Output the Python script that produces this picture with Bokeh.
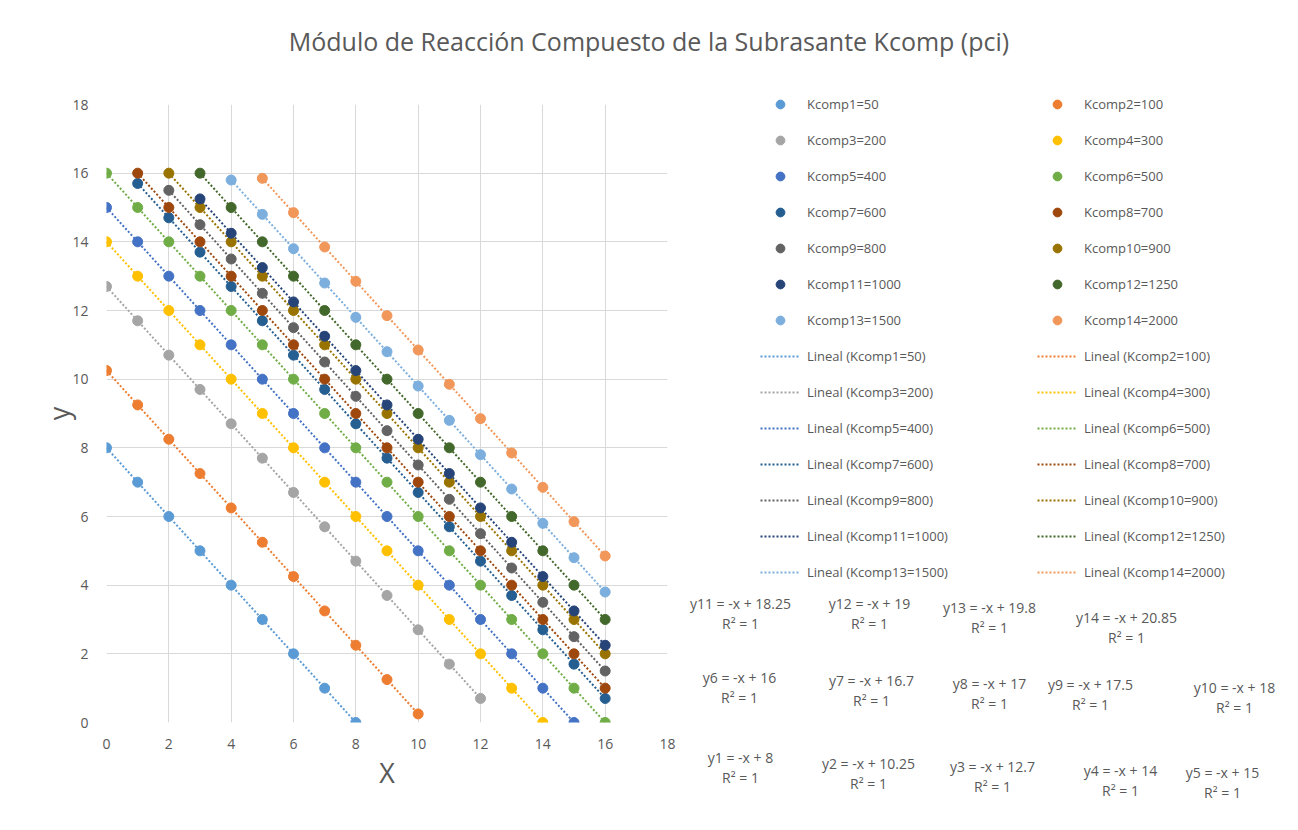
import numpy as np
from bokeh.plotting import figure
from bokeh.models import Range1d, Legend, LegendItem, Label, FixedTicker, Div
from bokeh.layouts import row, column
from bokeh.embed import file_html
from bokeh.resources import INLINE

# ---------------- data ----------------
series_names = ["Kcomp1=50", "Kcomp2=100", "Kcomp3=200", "Kcomp4=300", "Kcomp5=400",
                "Kcomp6=500", "Kcomp7=600", "Kcomp8=700", "Kcomp9=800", "Kcomp10=900",
                "Kcomp11=1000", "Kcomp12=1250", "Kcomp13=1500", "Kcomp14=2000"]

x1 = [0, 1, 2, 3, 4, 5, 6, 7, 8]
y1 = [8, 7, 6, 5, 4, 3, 2, 1, 0]
x2 = [0, 1, 2, 3, 4, 5, 6, 7, 8, 9, 10]
y2 = [10.25, 9.25, 8.25, 7.25, 6.25, 5.25, 4.25, 3.25, 2.25, 1.25, 0.25]
x3 = [0, 1, 2, 3, 4, 5, 6, 7, 8, 9, 10, 11, 12]
y3 = [12.7, 11.7, 10.7, 9.7, 8.7, 7.7, 6.7, 5.7, 4.7, 3.7, 2.7, 1.7, 0.7]
x4 = [0, 1, 2, 3, 4, 5, 6, 7, 8, 9, 10, 11, 12, 13, 14]
y4 = [14, 13, 12, 11, 10, 9, 8, 7, 6, 5, 4, 3, 2, 1, 0]
x5 = [0, 1, 2, 3, 4, 5, 6, 7, 8, 9, 10, 11, 12, 13, 14, 15]
y5 = [15, 14, 13, 12, 11, 10, 9, 8, 7, 6, 5, 4, 3, 2, 1, 0]
x6 = [0, 1, 2, 3, 4, 5, 6, 7, 8, 9, 10, 11, 12, 13, 14, 15, 16]
y6 = [16, 15, 14, 13, 12, 11, 10, 9, 8, 7, 6, 5, 4, 3, 2, 1, 0]
x7 = [1, 2, 3, 4, 5, 6, 7, 8, 9, 10, 11, 12, 13, 14, 15, 16]
y7 = [15.7, 14.7, 13.7, 12.7, 11.7, 10.7, 9.7, 8.7, 7.7, 6.7, 5.7, 4.7, 3.7, 2.7, 1.7, 0.7]
x8 = [1, 2, 3, 4, 5, 6, 7, 8, 9, 10, 11, 12, 13, 14, 15, 16]
y8 = [16, 15, 14, 13, 12, 11, 10, 9, 8, 7, 6, 5, 4, 3, 2, 1]
x9 = [2, 3, 4, 5, 6, 7, 8, 9, 10, 11, 12, 13, 14, 15, 16]
y9 = [15.5, 14.5, 13.5, 12.5, 11.5, 10.5, 9.5, 8.5, 7.5, 6.5, 5.5, 4.5, 3.5, 2.5, 1.5]
x10 = [2, 3, 4, 5, 6, 7, 8, 9, 10, 11, 12, 13, 14, 15, 16]
y10 = [16, 15, 14, 13, 12, 11, 10, 9, 8, 7, 6, 5, 4, 3, 2]
x11 = [3, 4, 5, 6, 7, 8, 9, 10, 11, 12, 13, 14, 15, 16]
y11 = [15.25, 14.25, 13.25, 12.25, 11.25, 10.25, 9.25, 8.25, 7.25, 6.25, 5.25, 4.25, 3.25, 2.25]
x12 = [3, 4, 5, 6, 7, 8, 9, 10, 11, 12, 13, 14, 15, 16]
y12 = [16, 15, 14, 13, 12, 11, 10, 9, 8, 7, 6, 5, 4, 3]
x13 = [4, 5, 6, 7, 8, 9, 10, 11, 12, 13, 14, 15, 16]
y13 = [15.8, 14.8, 13.8, 12.8, 11.8, 10.8, 9.8, 8.8, 7.8, 6.8, 5.8, 4.8, 3.8]
x14 = [5, 6, 7, 8, 9, 10, 11, 12, 13, 14, 15, 16]
y14 = [15.85, 14.85, 13.85, 12.85, 11.85, 10.85, 9.85, 8.85, 7.85, 6.85, 5.85, 4.85]

xs = [x1, x2, x3, x4, x5, x6, x7, x8, x9, x10, x11, x12, x13, x14]
ys = [y1, y2, y3, y4, y5, y6, y7, y8, y9, y10, y11, y12, y13, y14]

equations = ["y1 = -x + 8", "y2 = -x + 10.25", "y3 = -x + 12.7", "y4 = -x + 14",
             "y5 = -x + 15", "y6 = -x + 16", "y7 = -x + 16.7", "y8 = -x + 17",
             "y9 = -x + 17.5", "y10 = -x + 18", "y11 = -x + 18.25", "y12 = -x + 19",
             "y13 = -x + 19.8", "y14 = -x + 20.85"]
r2_text = "R² = 1"
title_text = "Módulo de Reacción Compuesto de la Subrasante Kcomp (pci)"

tick_values = [0, 2, 4, 6, 8, 10, 12, 14, 16, 18]

# ---------------- style / layout ----------------
colors = ["#5B9BD5", "#ED7D31", "#A5A5A5", "#FFC000", "#4472C4", "#70AD47",
          "#255E91", "#9E480E", "#636363", "#997300", "#264478", "#43682B",
          "#7CAFDD", "#F1975A"]
TXT = "#595959"
FONT = "Open Sans"

W, H = 1298, 830
TITLE_H = 80
P1_W = 686
FL, FR, FT, FB = 106, 667, 104, 722  # plot frame in page pixels
XMAX, YMAX = 18, 18

title_div = Div(text=title_text, width=W, height=TITLE_H, margin=0,
                styles={"text-align": "center", "font-family": FONT, "font-size": "25px",
                        "color": TXT, "line-height": "82px", "white-space": "nowrap",
                        "width": "%dpx" % W})

p1 = figure(width=P1_W, height=H - TITLE_H, output_backend="svg", toolbar_location=None,
            x_range=Range1d(0, XMAX), y_range=Range1d(0, YMAX),
            min_border_left=FL, min_border_right=P1_W - FR,
            min_border_top=FT - TITLE_H, min_border_bottom=H - FB, margin=0)
p1.outline_line_color = None

for ax in (p1.xaxis[0], p1.yaxis[0]):
    ax.ticker = FixedTicker(ticks=tick_values)
    ax.axis_line_color = None
    ax.major_tick_line_color = None
    ax.minor_tick_line_color = None
    ax.major_label_text_color = TXT
    ax.major_label_text_font = FONT
    ax.major_label_text_font_size = "14px"
    ax.axis_label_text_color = TXT
    ax.axis_label_text_font = FONT
    ax.axis_label_text_font_size = "27px"
    ax.axis_label_text_font_style = "normal"

p1.xaxis.axis_label = "X"
p1.yaxis.axis_label = "y"
p1.xaxis.major_label_standoff = 10
p1.xaxis.axis_label_standoff = 2
p1.yaxis.major_label_standoff = 12
p1.yaxis.axis_label_standoff = -8

p1.xgrid.ticker = FixedTicker(ticks=tick_values)
p1.ygrid.ticker = FixedTicker(ticks=tick_values)
p1.xgrid.grid_line_color = "#D9D9D9"
p1.ygrid.grid_line_color = "#D9D9D9"

for i in range(14):
    xa = np.array(xs[i], dtype=float)
    ya = np.array(ys[i], dtype=float)
    m, b = np.polyfit(xa, ya, 1)
    lx = [xa.min(), xa.max()]
    ly = [m * lx[0] + b, m * lx[1] + b]
    p1.line(lx, ly, line_color=colors[i], line_width=2, line_dash="2 2")
for i in range(14):
    p1.scatter(xs[i], ys[i], size=10, fill_color=colors[i], line_color=colors[i])

# ---------- right panel: legend + trendline equations ----------
P2_X0 = P1_W
p2 = figure(width=W - P1_W, height=H - TITLE_H, output_backend="svg", toolbar_location=None,
            x_range=Range1d(P2_X0, W), y_range=Range1d(H, TITLE_H),
            min_border_left=0, min_border_right=0, min_border_top=0, min_border_bottom=0,
            margin=0)
p2.axis.visible = False
p2.grid.visible = False
p2.outline_line_color = None

leg_scatter = []
leg_line = []
for i in range(14):
    leg_line.append(p2.line([P2_X0 - 50, P2_X0 - 40], [H + 50, H + 50], line_color=colors[i],
                            line_width=2, line_dash="2 2"))
    leg_scatter.append(p2.scatter([P2_X0 - 50], [H + 50], size=10, fill_color=colors[i],
                                  line_color=colors[i]))

left_items = [LegendItem(label=series_names[i], renderers=[leg_scatter[i]]) for i in range(0, 14, 2)]
left_items += [LegendItem(label="Lineal (%s)" % series_names[i], renderers=[leg_line[i]]) for i in range(0, 14, 2)]
right_items = [LegendItem(label=series_names[i], renderers=[leg_scatter[i]]) for i in range(1, 14, 2)]
right_items += [LegendItem(label="Lineal (%s)" % series_names[i], renderers=[leg_line[i]]) for i in range(1, 14, 2)]

ITEM_H, ITEM_GAP = 22, 14
LEG_TOP = 104 - ITEM_H // 2
n_rows = 14
leg_h = n_rows * ITEM_H + (n_rows - 1) * ITEM_GAP
for items, left_px in ((left_items, 760), (right_items, 1037)):
    leg = Legend(items=items, location=(left_px - P2_X0, H - (LEG_TOP + leg_h)),
                 orientation="vertical", glyph_width=40, glyph_height=ITEM_H,
                 label_height=20, spacing=ITEM_GAP, label_standoff=7,
                 padding=0, margin=0, border_line_color=None,
                 background_fill_alpha=0, label_text_font=FONT,
                 label_text_font_size="13px", label_text_color=TXT)
    p2.add_layout(leg)

eq_pos = [(740, 757), (868, 763), (992, 766), (1120, 770), (1222, 772),
          (739, 677), (871, 680), (989, 683), (1090, 684), (1234, 687),
          (740, 603), (869, 603), (989, 607), (1126, 617)]
for i in range(14):
    cx, cy = eq_pos[i]
    p2.add_layout(Label(x=cx, y=cy, text=equations[i], text_align="center",
                        text_baseline="middle", text_font=FONT, text_font_size="14px",
                        text_color=TXT))
    p2.add_layout(Label(x=cx, y=cy + 20, text=r2_text, text_align="center",
                        text_baseline="middle", text_font=FONT, text_font_size="14px",
                        text_color=TXT))

right_col = column(p2, spacing=0, margin=0)
layout = column(title_div, row(p1, right_col, spacing=0, margin=0), spacing=0, margin=0)

open("out.html", "w").write(file_html(layout, INLINE))
